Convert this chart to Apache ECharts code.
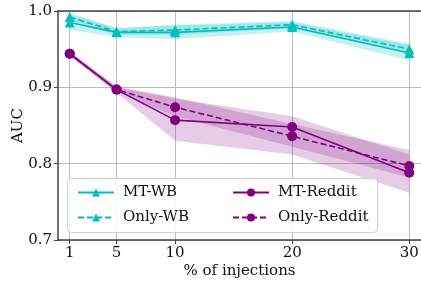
<!DOCTYPE html>
<html>
<head>
<meta charset="utf-8">
<script src="https://cdn.jsdelivr.net/npm/echarts@6/dist/echarts.min.js"></script>
<style>
  html, body { margin: 0; padding: 0; background: #fff; }
  #chart { width: 421px; height: 281px; }
</style>
</head>
<body>
<div id="chart"></div>
<script>
const injections = [1, 5, 10, 20, 30];
const xTicks = [1, 5, 10, 20, 30];

const mtWb = [0.985, 0.972, 0.972, 0.979, 0.945];
const mtWbLow = [0.975, 0.966, 0.963, 0.973, 0.935];
const mtWbHigh = [0.995, 0.978, 0.981, 0.985, 0.955];

const onlyWb = [0.992, 0.973, 0.975, 0.982, 0.950];
const onlyWbLow = [0.986, 0.969, 0.969, 0.977, 0.944];
const onlyWbHigh = [0.998, 0.977, 0.982, 0.987, 0.957];

const mtReddit = [0.944, 0.897, 0.857, 0.848, 0.788];
const mtRedditLow = [0.941, 0.893, 0.830, 0.812, 0.762];
const mtRedditHigh = [0.947, 0.901, 0.885, 0.862, 0.812];

const onlyReddit = [0.944, 0.897, 0.874, 0.836, 0.797];
const onlyRedditLow = [0.941, 0.894, 0.862, 0.822, 0.782];
const onlyRedditHigh = [0.947, 0.900, 0.887, 0.852, 0.818];

const teal = "#00bfbf";
const purple = "#800080";
const font = "'DejaVu Serif', 'Liberation Serif', serif";

const pairs = (ys) => injections.map((x, i) => [x, ys[i]]);

// shaded band between low and high, drawn as one polygon
const band = (low, high, color, opacity) => ({
    type: "custom", silent: true, z: 1,
    data: injections.map((x, i) => [x, low[i], high[i]]),
    encode: { x: 0, y: [1, 2] },
    renderItem: (params, api) => {
        if (params.dataIndex !== 0) return null;
        const top = injections.map((x, i) => api.coord([x, high[i]]));
        const bottom = injections.map((x, i) => api.coord([x, low[i]])).reverse();
        return {
            type: "polygon",
            shape: { points: top.concat(bottom) },
            style: { fill: color, opacity: opacity }
        };
    }
});

const line = (name, ys, color, dashed, symbol) => ({
    name, type: "line", data: pairs(ys), z: 5,
    symbol, symbolSize: 10,
    itemStyle: { color },
    lineStyle: { color, width: 1.6, type: dashed ? [6, 3] : "solid" }
});

const chart = echarts.init(document.getElementById("chart"));
chart.setOption({
    animation: false,
    textStyle: { fontFamily: font },
    grid: { left: 58, right: 0, top: 11, bottom: 41, outerBoundsMode: "none" },
    xAxis: [
        {
            type: "value", min: 0, max: 31,
            name: "% of injections", nameLocation: "middle", nameGap: 24, nameMoveOverlap: false,
            nameTextStyle: { fontSize: 15, color: "#111", fontFamily: font },
            axisLine: { show: true, lineStyle: { color: "#444", width: 1.5 } },
            axisTick: { show: true, length: 4, lineStyle: { color: "#444" }, customValues: xTicks },
            axisLabel: { fontSize: 15, color: "#111", margin: 6, fontFamily: font, customValues: xTicks },
            splitLine: { show: true, lineStyle: { color: "#bdbdbd", width: 1 } }
        },
        {
            // top spine only
            type: "value", position: "top", min: 0, max: 31,
            axisLine: { show: true, lineStyle: { color: "#444", width: 1.5 } },
            axisTick: { show: false }, axisLabel: { show: false }, splitLine: { show: false }
        }
    ],
    yAxis: {
        type: "value", min: 0.7, max: 1.0, interval: 0.1,
        name: "AUC", nameLocation: "middle", nameGap: 32, nameMoveOverlap: false,
        nameTextStyle: { fontSize: 15, color: "#111", fontFamily: font },
        axisLine: { show: true, lineStyle: { color: "#444", width: 1.5 } },
        axisTick: { show: true, length: 4, lineStyle: { color: "#444" } },
        axisLabel: { fontSize: 15, color: "#111", margin: 6, fontFamily: font, formatter: (v) => v.toFixed(1) },
        splitLine: { show: true, lineStyle: { color: "#bdbdbd", width: 1 } }
    },
    graphic: [{
        type: "rect", left: 67, top: 178, z: 100,
        shape: { width: 310, height: 54, r: 4 },
        style: { fill: "rgba(255,255,255,0.85)", stroke: "#d0d0d0", lineWidth: 1 }
    }],
    legend: [
        {
            data: ["MT-WB", "Only-WB"], orient: "vertical", left: 72, top: 180, z: 101,
            itemWidth: 36, itemHeight: 10, itemGap: 10,
            textStyle: { fontSize: 15, color: "#111", fontFamily: font, padding: [0, 0, 0, 4] }
        },
        {
            data: ["MT-Reddit", "Only-Reddit"], orient: "vertical", left: 227, top: 180, z: 101,
            itemWidth: 36, itemHeight: 10, itemGap: 10,
            textStyle: { fontSize: 15, color: "#111", fontFamily: font, padding: [0, 0, 0, 4] }
        }
    ],
    series: [
        band(mtWbLow, mtWbHigh, teal, 0.22),
        band(onlyWbLow, onlyWbHigh, teal, 0.22),
        band(mtRedditLow, mtRedditHigh, purple, 0.2),
        band(onlyRedditLow, onlyRedditHigh, purple, 0.2),
        line("MT-WB", mtWb, teal, false, "triangle"),
        line("Only-WB", onlyWb, teal, true, "triangle"),
        line("MT-Reddit", mtReddit, purple, false, "circle"),
        line("Only-Reddit", onlyReddit, purple, true, "circle")
    ]
});
</script>
</body>
</html>
